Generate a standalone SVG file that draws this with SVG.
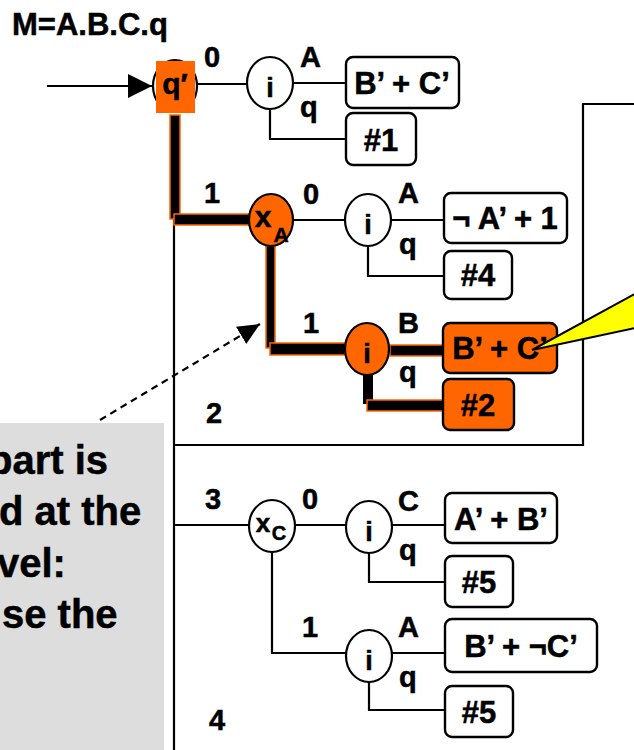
<svg xmlns="http://www.w3.org/2000/svg" width="634" height="750" viewBox="0 0 634 750">
<style>
text{font-family:"Liberation Sans",Arial,sans-serif;font-weight:bold;fill:#000;stroke:#000;stroke-width:0.5}
.lbl{font-size:29px}
.bt{font-size:31px;text-anchor:middle}
.nt{font-size:27px;text-anchor:middle}
.ln{stroke:#000;stroke-width:2.2;fill:none}
.thick{fill:#000;stroke:#FF6600;stroke-width:1.5}
.box{fill:#fff;stroke:#000;stroke-width:2.4}
.obox{fill:#FF6600;stroke:#000;stroke-width:2.4}
.nd{fill:#fff;stroke:#000;stroke-width:2.2}
.ond{fill:#FF6600;stroke:#000;stroke-width:2.2}
.big{font-size:40px}
</style>
<defs>
<marker id="solid" markerUnits="userSpaceOnUse" markerWidth="26" markerHeight="24" refX="24" refY="12" orient="auto">
<path d="M0,0 L24,12 L0,24 Z" fill="#000"/>
</marker>
<marker id="dashhead" markerUnits="userSpaceOnUse" markerWidth="24" markerHeight="22" refX="22" refY="11" orient="auto">
<path d="M0,1 L22,11 L0,21 Z" fill="#000"/>
</marker>
</defs>
<rect width="634" height="750" fill="#fff"/>
<rect x="0" y="423" width="164" height="327" fill="#DDDDDD"/>
<g id="note-text">
<text class="big" x="-12" y="474">part is</text>
<text class="big" x="-1" y="525">d at the</text>
<text class="big" x="-3" y="577">vel:</text>
<text class="big" x="2" y="628">se the</text>
</g>
<text x="12" y="35" font-size="31">M=A.B.C.q</text>
<g id="connectors">
<line class="ln" x1="47" y1="86" x2="152" y2="86" marker-end="url(#solid)"/>
<line class="ln" x1="197" y1="84" x2="247" y2="84"/>
<line class="ln" x1="293" y1="83" x2="346" y2="83"/>
<polyline class="ln" points="270,109 270,139 346,139"/>
<line class="ln" x1="293" y1="220" x2="345" y2="220"/>
<line class="ln" x1="391" y1="220" x2="444" y2="220"/>
<polyline class="ln" points="368,246 368,276 444,276"/>
<line class="ln" x1="174" y1="218" x2="174" y2="750"/>
<polyline class="ln" points="174,445 583,445 583,104 634,104"/>
<line class="ln" x1="174" y1="525" x2="249" y2="525"/>
<line class="ln" x1="295" y1="525" x2="346" y2="525"/>
<line class="ln" x1="392" y1="525" x2="445" y2="525"/>
<polyline class="ln" points="272,552 272,653 346,653"/>
<line class="ln" x1="392" y1="653" x2="445" y2="653"/>
<polyline class="ln" points="369,553 369,582 445,582"/>
<polyline class="ln" points="369,682 369,710 445,710"/>
<line x1="100" y1="420" x2="260" y2="324" stroke="#000" stroke-width="2.2" stroke-dasharray="7,5" marker-end="url(#dashhead)"/>
<rect class="thick" x="170" y="115" width="10" height="104"/>
<rect class="thick" x="174" y="214" width="75" height="11"/>
<rect class="thick" x="266" y="246" width="9" height="102"/>
<rect class="thick" x="270" y="343" width="75" height="12"/>
<rect class="thick" x="390" y="345" width="53" height="11"/>
<rect x="363" y="374" width="10" height="30" fill="#000"/>
<rect class="thick" x="367" y="400" width="76" height="11"/>
</g>
<g id="labels">
<text class="lbl" x="204" y="67">0</text>
<text class="lbl" x="300" y="67">A</text>
<text class="lbl" x="300" y="117">q</text>
<text class="lbl" x="204" y="203">1</text>
<text class="lbl" x="303" y="204">0</text>
<text class="lbl" x="398" y="203">A</text>
<text class="lbl" x="399" y="254">q</text>
<text class="lbl" x="303" y="333">1</text>
<text class="lbl" x="398" y="333">B</text>
<text class="lbl" x="399" y="382">q</text>
<text class="lbl" x="206" y="423">2</text>
<text class="lbl" x="205" y="509">3</text>
<text class="lbl" x="302" y="509">0</text>
<text class="lbl" x="398" y="511">C</text>
<text class="lbl" x="399" y="560">q</text>
<text class="lbl" x="302" y="637">1</text>
<text class="lbl" x="398" y="637">A</text>
<text class="lbl" x="399" y="687">q</text>
<text class="lbl" x="209" y="730">4</text>
</g>
<g id="node-q0">
<ellipse class="nd" cx="175" cy="86" rx="22" ry="26"/>
<rect x="156" y="61" width="39" height="52" fill="#FF6600"/>
<text x="175" y="94" font-size="30" text-anchor="middle">q′</text>
</g>
<g id="node-i-top"><ellipse class="nd" cx="270" cy="83" rx="23" ry="26"/><text class="nt" x="270" y="97">i</text></g>
<g id="box-top1"><rect class="box" x="346" y="57" width="113" height="51" rx="7"/><text class="bt" x="402" y="94">B’ + C’</text></g>
<g id="box-top2"><rect class="box" x="346" y="113" width="70" height="52" rx="7"/><text class="bt" x="381" y="151">#1</text></g>
<g id="node-xA"><ellipse class="ond" cx="271" cy="220" rx="22" ry="26"/><text x="263" y="227" font-size="30" text-anchor="middle">x</text><text x="281" y="242" font-size="21" text-anchor="middle">A</text></g>
<g id="node-i-1"><ellipse class="nd" cx="368" cy="220" rx="23" ry="26"/><text class="nt" x="368" y="234">i</text></g>
<g id="box-1a"><rect class="box" x="444" y="193" width="123" height="50" rx="7"/><text class="bt" x="505" y="229">¬ A’ + 1</text></g>
<g id="box-1b"><rect class="box" x="444" y="251" width="68" height="48" rx="7"/><text class="bt" x="478" y="286">#4</text></g>
<g id="node-i-2"><ellipse class="ond" cx="367" cy="349" rx="22" ry="26"/><text class="nt" x="367" y="363">i</text></g>
<g id="box-2a"><rect class="obox" x="443" y="323" width="114" height="50" rx="7"/><text class="bt" x="500" y="359">B’ + C’</text></g>
<g id="box-2b"><rect class="obox" x="443" y="379" width="71" height="51" rx="7"/><text class="bt" x="478" y="416">#2</text></g>
<g id="node-xC"><ellipse class="nd" cx="272" cy="526" rx="23" ry="26"/><text x="263" y="532" font-size="26" text-anchor="middle">x</text><text x="279" y="540" font-size="20" text-anchor="middle">C</text></g>
<g id="node-i-3"><ellipse class="nd" cx="369" cy="527" rx="23" ry="26"/><text class="nt" x="369" y="541">i</text></g>
<g id="box-3a"><rect class="box" x="445" y="493" width="112" height="50" rx="7"/><text class="bt" x="501" y="530">A’ + B’</text></g>
<g id="box-3b"><rect class="box" x="445" y="556" width="68" height="51" rx="7"/><text class="bt" x="479" y="593">#5</text></g>
<g id="node-i-4"><ellipse class="nd" cx="369" cy="656" rx="23" ry="26"/><text class="nt" x="369" y="670">i</text></g>
<g id="box-4a"><rect class="box" x="445" y="619" width="152" height="53" rx="7"/><text class="bt" x="521" y="657">B’ + ¬C’</text></g>
<g id="box-4b"><rect class="box" x="445" y="686" width="68" height="51" rx="7"/><text class="bt" x="479" y="723">#5</text></g>
<polygon id="callout" points="532,350 640,291 640,327" fill="#FFFF00" stroke="#000" stroke-width="2"/>
</svg>
